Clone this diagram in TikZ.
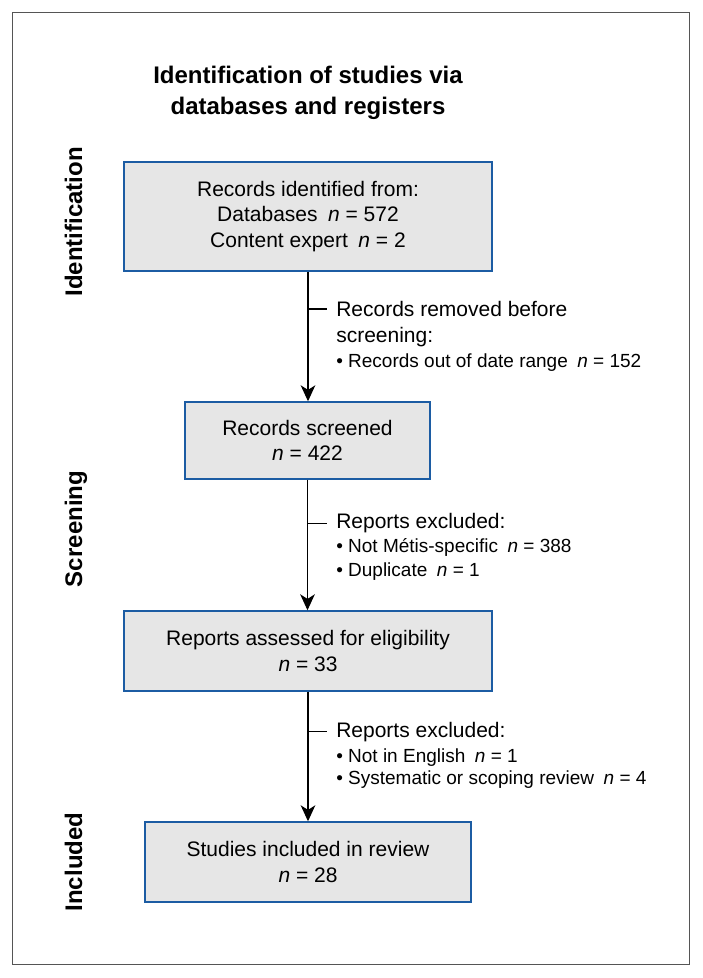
\documentclass[tikz,border=0pt]{standalone}
\usepackage{fontspec}
\setmainfont{Liberation Sans}
\usetikzlibrary{arrows.meta}
\definecolor{boxblue}{RGB}{28,92,163}
\definecolor{boxgray}{RGB}{230,230,230}
\definecolor{framegray}{RGB}{85,85,85}

\begin{document}
\begin{tikzpicture}[x=0.75pt,y=-0.75pt,
        stagebox/.style={draw=boxblue,line width=1.1pt,fill=boxgray,inner sep=0pt,align=center,
            font=\fontsize{15.75}{19}\selectfont},
        sidelabel/.style={rotate=90,anchor=base,font=\fontsize{18}{22}\selectfont\bfseries},
        mainline/.style={anchor=base west,inner sep=0pt,font=\fontsize{15.75}{19}\selectfont},
        bulline/.style={anchor=base west,inner sep=0pt,font=\fontsize{14.25}{17}\selectfont},
        flow/.style={line width=0.8pt,-{Stealth[length=12pt,width=11pt,inset=3.5pt]}},
        tick/.style={line width=0.8pt}]
    \useasboundingbox (0,0) rectangle (703,978);
    \draw[framegray,line width=1.4pt] (12.5,12.5) rectangle (689.5,964.5);

    % heading and phases
    \node[align=center,font=\fontsize{18}{23.25}\selectfont\bfseries] (title) at (308,93)
        {Identification of studies via\\databases and registers};
    \node[sidelabel] (phid) at (82,222) {Identification};
    \node[sidelabel] (phsc) at (82,529) {Screening};
    \node[sidelabel] (phin) at (82,862) {Included};

    % boxes
    \node[stagebox,minimum width=276pt,minimum height=82pt] (ident) at (308,216.5)
        {Records identified from:\\Databases\enspace\textit{n} = 572\\Content expert\enspace\textit{n} = 2};
    \node[stagebox,minimum width=183.75pt,minimum height=57.75pt] (scr) at (307.5,440.5)
        {Records screened\\\textit{n} = 422};
    \node[stagebox,minimum width=276pt,minimum height=60pt] (elig) at (308,651)
        {Reports assessed for eligibility\\\textit{n} = 33};
    \node[stagebox,minimum width=244.5pt,minimum height=60pt] (incl) at (308,862)
        {Studies included in review\\\textit{n} = 28};

    % exclusions
    \node[mainline] (rmA) at (336,316.5) {Records removed before};
    \node[mainline] (rmB) at (336,342.5) {screening:};
    \node[bulline] (rmC) at (336,367) {\textbullet\ Records out of date range\enspace\textit{n} = 152};

    \node[mainline] (exA) at (336,528.5) {Reports excluded:};
    \node[bulline] (exB) at (336,552.5) {\textbullet\ Not Métis-specific\enspace\textit{n} = 388};
    \node[bulline] (exC) at (336,576) {\textbullet\ Duplicate\enspace\textit{n} = 1};

    \node[mainline] (xeA) at (336,737) {Reports excluded:};
    \node[bulline] (xeB) at (336,762) {\textbullet\ Not in English\enspace\textit{n} = 1};
    \node[bulline] (xeC) at (336,784.5) {\textbullet\ Systematic or scoping review\enspace\textit{n} = 4};

    % arrows
    \draw[flow] (ident.south) -- (ident.south |- scr.north);
    \draw[flow] (scr.south) -- (scr.south |- elig.north);
    \draw[flow] (elig.south) -- (elig.south |- incl.north);

    \draw[tick] (ident.south |- rmA.west) -- ([xshift=-6.75pt]rmA.west);
    \draw[tick] (scr.south |- exA.west) -- ([xshift=-6.75pt]exA.west);
    \draw[tick] (elig.south |- xeA.west) -- ([xshift=-6.75pt]xeA.west);
\end{tikzpicture}
\end{document}
